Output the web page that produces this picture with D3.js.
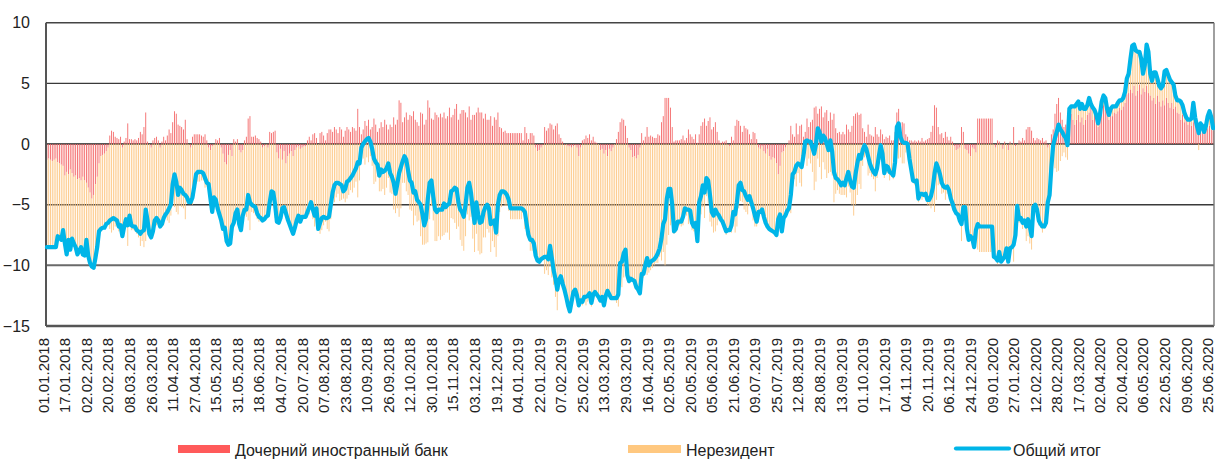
<!DOCTYPE html>
<html><head><meta charset="utf-8">
<script src="https://cdn.jsdelivr.net/npm/d3@7"></script>
<style>
body{margin:0;background:#fff}
svg{display:block}
text{font-family:"Liberation Sans",Arial,sans-serif;fill:#222}
</style>
</head><body>
<svg id="c" width="1215" height="459"></svg>
<script>
const tickLabels = ["01.01.2018","17.01.2018","02.02.2018","20.02.2018","08.03.2018","26.03.2018","11.04.2018","27.04.2018","15.05.2018","31.05.2018","18.06.2018","04.07.2018","20.07.2018","07.08.2018","23.08.2018","10.09.2018","26.09.2018","12.10.2018","30.10.2018","15.11.2018","03.12.2018","19.12.2018","04.01.2019","22.01.2019","07.02.2019","25.02.2019","13.03.2019","29.03.2019","16.04.2019","02.05.2019","20.05.2019","05.06.2019","21.06.2019","09.07.2019","25.07.2019","12.08.2019","28.08.2019","13.09.2019","01.10.2019","17.10.2019","04.11.2019","20.11.2019","06.12.2019","24.12.2019","09.01.2020","27.01.2020","12.02.2020","28.02.2020","17.03.2020","02.04.2020","20.04.2020","06.05.2020","22.05.2020","09.06.2020","25.06.2020"];
const tickEvery = 12;
const yTicks = [10,5,0,-5,-10,-15];
const seriesNames = ["Дочерний иностранный банк","Нерезидент","Общий итог"];

// Общий итог (line)
const total = [
-8.5,-8.5,-8.5,-8.5,-8.5,-8.5,-7.6,-7.7,-7.9,-7.1,
-8.2,-9.1,-7.9,-8.7,-7.8,-8.2,-8.5,-9.1,-8.8,-8.5,
-9.1,-9.2,-7.9,-9.2,-9.8,-10.1,-10.2,-9.4,-8.5,-7.2,
-7.0,-6.9,-6.9,-6.6,-6.5,-6.3,-6.2,-6.1,-6.2,-6.3,-6.8,
-6.7,-7.6,-6.8,-6.2,-6.7,-5.9,-6.7,-6.8,-6.8,-7.1,
-7.2,-7.4,-7.2,-7.1,-5.4,-6.3,-7.4,-7.7,-7.2,-6.3,
-6.1,-6.3,-6.8,-6.6,-6.1,-5.8,-5.6,-5.3,-5.0,-3.3,
-2.5,-3.1,-4.2,-3.6,-3.8,-4.1,-4.2,-4.4,-4.8,-4.8,
-4.4,-3.5,-2.5,-2.3,-2.3,-2.3,-2.4,-2.8,-3.2,-3.3,-4.5,
-5.6,-4.4,-4.6,-5.3,-5.8,-6.3,-7.0,-6.9,-8.0,-8.3,
-8.2,-6.8,-6.5,-5.7,-5.4,-6.6,-7.1,-5.9,-5.4,-5.4,
-4.2,-4.8,-5.0,-5.1,-5.2,-5.7,-6.0,-6.1,-6.3,-6.2,
-6.0,-5.9,-4.8,-3.9,-4.0,-5.0,-6.4,-6.5,-6.1,-5.3,
-5.2,-5.7,-6.2,-6.6,-7.0,-7.4,-6.9,-6.3,-5.9,-6.4,
-6.0,-6.0,-6.0,-5.6,-5.2,-4.8,-5.4,-5.9,-5.3,-7.0,-6.5,
-6.1,-6.0,-6.1,-6.1,-6.0,-5.0,-4.0,-3.4,-3.2,-3.2,
-3.3,-3.4,-3.9,-3.7,-3.1,-3.0,-2.8,-2.6,-2.3,-2.0,
-1.5,-1.6,-0.3,0.0,0.2,0.4,0.5,0.2,-0.4,-1.2,
-1.5,-1.7,-2.6,-2.1,-2.3,-2.2,-2.0,-1.6,-2.4,-2.7,-3.2,
-4.1,-3.3,-2.4,-1.9,-1.4,-1.0,-1.3,-2.2,-3.0,-3.2,
-4.0,-3.9,-4.6,-4.8,-5.0,-5.8,-6.7,-6.2,-4.5,-3.2,
-3.0,-4.3,-5.4,-5.6,-5.4,-5.4,-5.4,-4.9,-5.2,-5.0,
-4.9,-3.9,-3.8,-3.6,-3.7,-4.8,-5.4,-5.6,-6.0,-5.0,
-3.6,-3.2,-4.0,-5.4,-6.5,-4.8,-5.8,-6.5,-6.4,-5.6,
-5.2,-5.0,-5.3,-6.6,-6.5,-6.3,-7.3,-5.0,-4.2,-3.9,
-3.9,-4.0,-4.2,-4.6,-5.3,-5.3,-5.3,-5.3,-5.3,-5.3,-5.3,
-5.4,-5.6,-6.6,-7.5,-7.9,-7.9,-8.2,-9.2,-9.6,-9.7,
-9.5,-9.4,-9.3,-9.3,-9.5,-8.4,-9.4,-10.4,-11.1,-12.0,
-11.2,-10.9,-11.5,-12.0,-12.6,-13.3,-13.8,-13.0,-12.2,-12.0,
-12.5,-13.3,-12.9,-13.0,-12.6,-12.6,-12.5,-12.3,-13.1,-12.4,
-12.2,-12.4,-12.6,-12.9,-12.6,-13.3,-12.5,-12.1,-12.4,-12.7,-12.7,
-12.7,-12.7,-12.4,-9.8,-9.7,-9.0,-8.7,-10.8,-11.3,-11.1,
-11.2,-11.3,-11.8,-12.0,-12.3,-10.7,-10.7,-10.0,-9.4,-10.0,
-9.7,-9.6,-9.5,-9.3,-9.0,-8.6,-7.8,-6.6,-6.2,-4.5,
-3.7,-3.7,-5.0,-7.2,-7.0,-6.4,-6.4,-6.4,-6.0,-5.3,-5.4,
-5.4,-5.5,-6.5,-6.8,-6.5,-8.0,-4.8,-4.3,-3.4,-4.0,
-2.8,-3.0,-4.2,-5.6,-5.9,-5.4,-5.7,-5.9,-6.2,-6.4,
-6.8,-7.2,-7.1,-7.1,-6.7,-5.6,-5.8,-4.8,-3.4,-3.2,
-3.8,-3.9,-4.3,-4.6,-4.3,-4.8,-5.3,-5.9,-6.4,-5.6,
-5.6,-5.4,-6.0,-6.5,-6.8,-7.0,-7.1,-7.2,-7.3,-7.5,-6.2,
-5.8,-7.2,-6.1,-5.9,-5.5,-5.3,-4.2,-2.5,-2.3,-1.8,
-1.6,-1.7,-1.9,-1.0,0.2,0.3,0.2,0.2,-0.3,-0.8,
0.0,1.3,1.0,0.2,0.7,0.5,0.0,-0.5,0.3,-0.6,
-2.3,-2.8,-2.9,-3.1,-3.4,-3.2,-3.4,-2.8,-2.3,-3.0,
-3.5,-3.6,-2.5,-1.6,-0.9,-1.2,-0.5,-0.1,-0.4,-1.0,
-1.6,-2.0,-2.3,-2.5,-2.0,-1.0,-0.1,-0.8,-2.4,-1.8,-1.9,
-2.3,-2.4,-2.6,-1.5,1.4,1.7,0.6,0.2,0.1,0.1,
0.0,-1.2,-2.1,-3.0,-3.1,-3.0,-4.5,-4.1,-4.1,-4.2,
-4.1,-4.6,-4.6,-4.3,-3.6,-2.4,-1.6,-2.0,-2.5,-3.2,
-3.5,-3.6,-3.5,-3.8,-4.5,-4.9,-5.4,-5.7,-5.8,-6.3,
-6.6,-5.2,-5.2,-7.0,-7.9,-7.6,-7.8,-8.5,-7.1,-6.6,
-6.8,-6.8,-6.8,-6.8,-6.8,-6.8,-6.8,-6.8,-9.3,-9.4,-9.6,
-8.9,-9.7,-9.5,-9.3,-8.6,-9.7,-8.6,-8.5,-8.3,-7.5,
-5.1,-6.2,-6.1,-6.5,-6.3,-6.8,-6.2,-6.8,-7.6,-5.2,
-5.0,-5.4,-6.3,-6.6,-6.8,-6.8,-6.5,-4.8,-4.2,-1.9,
-0.1,0.5,1.0,1.6,1.2,1.0,0.7,0.5,-0.1,2.9,
3.1,3.1,3.1,3.3,3.5,2.9,3.3,2.9,2.9,3.2,3.8,
3.3,3.0,2.8,2.4,1.7,2.4,3.5,4.0,3.8,2.9,
2.4,2.9,3.1,3.1,3.1,3.4,3.6,3.6,3.8,4.3,
5.4,5.8,7.0,8.1,8.2,7.7,7.6,7.6,7.0,5.8,
6.5,8.2,7.6,5.8,5.2,5.9,5.9,5.4,4.8,4.6,
4.8,6.0,6.1,5.7,5.3,5.1,4.9,4.0,3.6,3.6,3.5,
3.2,2.6,2.2,2.0,2.0,2.1,3.4,2.2,1.5,0.9,
1.7,1.5,1.0,1.5,2.3,2.7,2.2,1.3];

// Дочерний иностранный банк (bars)
const foreignBank = [
-1.3,-1.2,-1.3,-1.4,-1.3,-1.2,-1.5,-1.6,-1.7,-1.8,
-2.6,-2.3,-2.5,-2.1,-2.4,-2.7,-2.6,-2.9,-2.8,-3.0,
-2.7,-3.0,-3.2,-3.6,-4.0,-4.5,-4.2,-3.3,-2.7,-1.6,
-1.0,-0.9,-0.8,-0.6,-0.3,0.7,1.1,1.0,0.6,0.5,0.4,
0.6,-0.3,0.2,0.5,1.7,0.4,0.4,0.3,0.4,0.3,
0.5,1.0,0.8,1.4,2.6,0.2,0.0,-0.3,0.3,0.5,
0.6,0.3,-0.3,0.2,0.6,0.3,0.7,1.2,0.9,1.8,
2.7,2.5,1.6,1.5,1.4,1.2,2.0,0.4,0.0,-0.3,
0.6,0.8,0.8,0.8,0.8,0.7,0.6,0.8,0.3,-0.3,-0.5,
-0.2,0.0,0.4,0.3,0.5,-0.3,-0.8,-1.5,-1.7,-0.9,
-0.5,-1.0,0.4,0.2,0.4,-0.5,-0.7,-0.5,0.3,0.6,
2.1,2.3,0.6,0.6,0.7,0.5,0.4,0.2,-0.3,-0.2,
0.0,-0.3,1.0,0.9,1.0,1.1,-0.7,-1.2,-0.4,-1.3,
-0.6,-1.6,-1.0,-0.8,-0.6,-1.0,-0.5,-0.3,-0.2,-0.4,
-0.3,-0.2,-0.2,0.3,0.6,0.3,0.8,0.9,0.5,0.0,0.9,
1.0,0.7,0.3,0.9,1.2,1.2,1.0,1.4,1.2,0.9,
1.4,1.2,0.6,1.1,1.4,1.2,1.0,1.4,1.3,1.1,
2.9,1.4,0.8,1.2,1.9,1.5,2.0,1.2,1.4,2.1,
1.6,1.0,1.3,1.8,1.4,2.0,1.6,1.2,1.6,1.4,2.2,
1.6,2.0,3.6,3.4,1.8,2.2,2.6,2.0,2.4,2.3,
2.7,2.0,1.8,1.5,2.6,2.5,1.6,2.0,3.6,3.0,
2.1,2.0,2.6,2.4,2.2,2.5,2.2,2.6,2.1,2.3,
3.0,2.2,2.4,2.9,3.3,2.0,2.5,2.8,2.8,2.6,
2.2,3.1,2.0,2.4,2.4,2.6,3.0,2.6,2.6,2.1,
2.5,2.0,2.0,2.3,1.5,2.2,2.0,2.6,1.4,1.3,
1.0,1.1,0.9,0.9,0.9,0.9,0.9,0.9,0.9,0.9,0.9,
0.3,1.4,0.9,0.4,0.9,0.9,0.7,-0.3,-0.6,-0.5,
-0.3,-0.1,1.4,1.1,1.3,1.7,1.6,1.2,1.5,1.7,
0.8,0.5,0.2,-0.1,0.0,-0.2,-0.2,-0.3,-0.2,-0.1,
-0.3,-1.0,-0.3,0.3,0.4,0.7,0.5,0.8,0.3,0.6,
0.2,0.1,0.0,-0.5,-0.4,-0.8,-0.5,-1.0,-0.4,-0.6,-0.3,
0.0,0.4,1.0,1.8,2.1,2.0,1.5,0.5,-0.3,-0.5,
-1.1,-1.0,-1.2,-0.9,-0.3,0.9,0.3,0.6,1.4,0.6,
0.7,0.6,0.5,0.5,0.8,0.7,1.8,2.3,3.8,3.8,
3.8,3.0,1.4,0.2,0.3,0.3,0.3,0.4,0.7,0.3,0.5,
1.2,0.8,0.6,0.4,0.8,0.1,0.8,1.5,1.8,2.1,
1.5,1.9,2.2,1.2,1.4,1.8,1.0,0.3,0.1,0.2,
0.2,0.3,0.0,-0.2,0.6,0.3,1.5,2.0,1.9,1.5,
1.0,1.5,1.3,1.2,0.8,0.4,1.0,0.9,0.4,-0.3,
-0.4,-0.2,-0.6,-0.8,-0.4,-1.0,-1.3,-1.1,-1.2,-1.6,-2.5,
-1.8,-0.7,-0.6,-0.3,0.0,0.3,1.5,0.8,0.6,1.7,
0.8,1.5,1.6,0.6,1.0,2.1,1.4,1.8,2.0,3.0,
3.1,2.5,2.9,3.1,2.2,2.6,2.8,1.9,2.6,2.0,
2.5,1.3,0.9,1.0,0.8,1.0,0.8,1.6,1.2,1.0,
1.5,2.3,2.5,2.6,2.4,2.5,1.3,1.0,0.6,1.6,
0.8,0.7,0.6,1.4,0.8,0.6,1.2,0.8,0.4,0.6,0.5,
0.7,0.3,0.3,1.0,2.6,2.9,1.7,1.8,1.7,0.8,
0.6,0.3,0.3,0.2,0.3,0.2,0.3,0.2,0.5,0.2,
0.3,0.4,0.5,1.0,1.5,3.2,3.0,1.4,0.8,0.9,
0.5,1.0,0.6,0.3,0.6,0.2,-0.2,-0.5,-0.4,-0.3,
1.4,1.0,-0.4,-0.5,-0.8,-1.0,-0.3,-0.4,-0.7,2.1,
2.1,2.1,2.1,2.1,2.1,2.1,2.1,2.1,0.0,-0.3,0.3,
0.2,0.0,-0.4,0.2,0.0,-0.5,0.2,0.0,1.4,-0.2,
0.0,0.3,0.2,0.5,0.3,1.2,1.4,1.4,1.1,0.5,
0.3,0.5,0.4,0.3,0.5,0.2,0.3,-0.3,0.0,0.8,
1.2,2.5,3.3,3.8,2.6,2.0,1.4,1.6,1.2,2.2,
2.5,2.0,1.6,2.0,2.4,1.8,2.2,1.6,2.0,2.4,2.6,
3.1,2.0,2.4,2.0,1.4,2.0,2.6,3.2,3.5,2.8,
2.0,2.4,2.3,2.6,2.5,2.7,3.0,2.8,3.1,3.4,
4.1,4.2,4.5,4.2,4.8,4.0,4.4,4.9,4.1,4.6,
4.3,4.8,4.2,4.0,3.6,3.8,3.3,4.0,3.5,3.1,
3.6,3.2,3.8,3.4,3.0,3.4,2.9,3.1,2.6,2.5,2.0,
2.4,1.8,2.2,1.6,2.0,1.5,1.8,1.9,1.3,1.4,
1.2,1.1,1.0,1.2,1.3,1.5,1.2,1.1];

// Нерезидент (bars)
const nonResident = [
-7.2,-7.3,-7.2,-7.1,-7.2,-7.3,-6.1,-6.1,-6.2,-5.3,
-5.6,-6.8,-5.4,-6.6,-5.4,-5.5,-5.9,-6.2,-6.0,-5.5,
-6.4,-6.2,-4.7,-5.6,-5.8,-5.6,-6.0,-6.1,-5.8,-5.6,
-6.0,-6.0,-6.1,-6.0,-6.2,-7.0,-7.3,-7.1,-6.8,-6.8,-7.2,
-7.3,-7.3,-7.0,-6.7,-8.4,-6.3,-7.1,-7.1,-7.2,-7.4,
-7.7,-8.4,-8.0,-8.5,-8.0,-6.5,-7.4,-7.4,-7.5,-6.8,
-6.7,-6.6,-6.5,-6.8,-6.7,-6.1,-6.3,-6.5,-5.9,-5.1,
-5.2,-5.6,-5.8,-5.1,-5.2,-5.3,-6.2,-4.8,-4.8,-4.5,
-5.0,-4.3,-3.3,-3.1,-3.1,-3.0,-3.0,-3.6,-3.5,-3.0,-4.0,
-5.4,-4.4,-5.0,-5.6,-6.3,-6.0,-6.2,-5.4,-6.3,-7.4,
-7.7,-5.8,-6.9,-5.9,-5.8,-6.1,-6.4,-5.4,-5.7,-6.0,
-6.3,-7.1,-5.6,-5.7,-5.9,-6.2,-6.4,-6.3,-6.0,-6.0,
-6.0,-5.6,-5.8,-4.8,-5.0,-6.1,-5.7,-5.3,-5.7,-4.0,
-4.6,-4.1,-5.2,-5.8,-6.4,-6.4,-6.4,-6.0,-5.7,-6.0,
-5.7,-5.8,-5.8,-5.9,-5.8,-5.1,-6.2,-6.8,-5.8,-7.0,-7.4,
-7.1,-6.7,-6.4,-7.0,-7.2,-6.2,-5.0,-4.8,-4.4,-4.1,
-4.7,-4.6,-4.5,-4.8,-4.5,-4.2,-3.8,-4.0,-3.6,-3.1,
-4.4,-3.0,-1.1,-1.2,-1.7,-1.1,-1.5,-1.0,-1.8,-3.3,
-3.1,-2.7,-3.9,-3.9,-3.7,-4.2,-3.6,-2.8,-4.0,-4.1,-5.4,
-5.7,-5.3,-6.0,-5.3,-3.2,-3.2,-3.9,-4.2,-5.4,-5.5,
-6.7,-5.9,-6.4,-6.3,-7.6,-8.3,-8.3,-8.2,-8.1,-6.2,
-5.1,-6.3,-8.0,-8.0,-7.6,-7.9,-7.6,-7.5,-7.3,-7.3,
-7.9,-6.1,-6.2,-6.5,-7.0,-6.8,-7.9,-8.4,-8.8,-7.6,
-5.8,-6.3,-6.0,-7.8,-8.9,-7.4,-8.8,-9.1,-9.0,-7.7,
-7.7,-7.0,-7.3,-8.9,-8.0,-8.5,-9.3,-7.6,-5.6,-5.2,
-4.9,-5.1,-5.1,-5.5,-6.2,-6.2,-6.2,-6.2,-6.2,-6.2,-6.2,
-5.7,-7.0,-7.5,-7.9,-8.8,-8.8,-8.9,-8.9,-9.0,-9.2,
-9.2,-9.3,-10.7,-10.4,-10.8,-10.1,-11.0,-11.6,-12.6,-13.7,
-12.0,-11.4,-11.7,-11.9,-12.6,-13.1,-13.6,-12.7,-12.0,-11.9,
-12.2,-12.3,-12.6,-13.3,-13.0,-13.3,-13.0,-13.1,-13.4,-13.0,
-12.4,-12.5,-12.6,-12.4,-12.2,-12.5,-12.0,-11.1,-12.0,-12.1,-12.4,
-12.7,-13.1,-13.4,-11.6,-11.8,-11.0,-10.2,-11.3,-11.0,-10.6,
-10.1,-10.3,-10.6,-11.1,-12.0,-11.6,-11.0,-10.6,-10.8,-10.6,
-10.4,-10.2,-10.0,-9.8,-9.8,-9.3,-9.6,-8.9,-10.0,-8.3,
-7.5,-6.7,-6.4,-7.4,-7.3,-6.7,-6.7,-6.8,-6.7,-5.6,-5.9,
-6.6,-6.3,-7.1,-7.2,-7.3,-8.1,-5.6,-5.8,-5.2,-6.1,
-4.3,-4.9,-6.4,-6.8,-7.3,-7.2,-6.7,-6.2,-6.3,-6.6,
-7.0,-7.5,-7.1,-6.9,-7.3,-5.9,-7.3,-6.8,-5.3,-4.7,
-4.8,-5.4,-5.6,-5.8,-5.1,-5.2,-6.3,-6.8,-6.8,-5.3,
-5.2,-5.2,-5.4,-5.7,-6.4,-6.0,-5.8,-6.1,-6.1,-5.9,-3.7,
-4.0,-6.5,-5.5,-5.6,-5.5,-5.6,-5.7,-3.3,-2.9,-3.5,
-2.4,-3.2,-3.5,-1.6,-0.8,-1.8,-1.2,-1.6,-2.3,-3.8,
-3.1,-1.2,-1.9,-2.9,-1.5,-2.1,-2.8,-2.4,-2.3,-2.6,
-4.8,-4.1,-3.8,-4.1,-4.2,-4.2,-4.2,-4.4,-3.5,-4.0,
-5.0,-5.9,-5.0,-4.2,-3.3,-3.7,-1.8,-1.1,-1.0,-2.6,
-2.4,-2.7,-2.9,-3.9,-2.8,-1.6,-1.3,-1.6,-2.8,-2.4,-2.4,
-3.0,-2.7,-2.9,-2.5,-1.2,-1.2,-1.1,-1.6,-1.6,-0.7,
-0.6,-1.5,-2.4,-3.2,-3.4,-3.2,-4.8,-4.3,-4.6,-4.4,
-4.4,-5.0,-5.1,-5.3,-5.1,-5.6,-4.6,-3.4,-3.3,-4.1,
-4.0,-4.6,-4.1,-4.1,-5.1,-5.1,-5.2,-5.2,-5.4,-6.0,
-8.0,-6.2,-4.8,-6.5,-7.1,-6.6,-7.5,-8.1,-6.4,-8.7,
-8.9,-8.9,-8.9,-8.9,-8.9,-8.9,-8.9,-8.9,-9.3,-9.1,-9.9,
-9.1,-9.7,-9.1,-9.5,-8.6,-9.2,-8.8,-8.5,-9.7,-7.3,
-5.1,-6.5,-6.3,-7.0,-6.6,-8.0,-7.6,-8.2,-8.7,-5.7,
-5.3,-5.9,-6.7,-6.9,-7.3,-7.0,-6.8,-4.5,-4.2,-2.7,
-1.3,-2.0,-2.3,-2.2,-1.4,-1.0,-0.7,-1.1,-1.3,0.7,
0.6,1.1,1.5,1.3,1.1,1.1,1.1,1.3,0.9,0.8,1.2,
0.2,1.0,0.4,0.4,0.3,0.4,0.9,0.8,0.3,0.1,
0.4,0.5,0.8,0.5,0.6,0.7,0.6,0.8,0.7,0.9,
1.3,1.6,2.5,3.9,3.4,3.7,3.2,2.7,2.9,1.2,
2.2,3.4,3.4,1.8,1.6,2.1,2.6,1.4,1.3,1.5,
1.2,2.8,2.3,2.3,2.3,1.7,2.0,0.9,1.0,1.1,1.5,
0.8,0.8,0.0,0.4,0.0,0.6,1.6,0.3,0.2,-0.5,
0.5,0.4,0.0,0.3,1.0,1.2,1.0,0.2];

const colors = {red:"#F46A6A", orange:"#FDC886", line:"#00B5E8"};

const svg = d3.select("#c");
const L = 46, R = 1214, T = 22.7, B = 326;
const N = total.length;
const idx = d3.range(N);
const x = d3.scaleBand().domain(idx).range([L, R]).paddingInner(0.5).paddingOuter(0.25);
const y = d3.scaleLinear().domain([-15, 10]).range([B, T]);
const cx = i => x(i) + x.bandwidth() / 2;

// gridlines
const grid = svg.append("g");
[5, 0, -5, -10].forEach(v => {
  grid.append("line").attr("x1", L).attr("x2", R).attr("y1", y(v)).attr("y2", y(v))
    .attr("stroke", v === 0 ? "#1e1e1e" : (v === -10 ? "#6a6a6a" : "#3a3a3a"))
    .attr("stroke-width", v === -10 ? 2 : 1.4);
});

// stacked bars
const bars = svg.append("g");
idx.forEach(i => {
  const a = foreignBank[i] || 0, b = nonResident[i] || 0;
  bars.append("rect").attr("x", x(i)).attr("width", x.bandwidth())
    .attr("y", y(Math.max(0, a))).attr("height", Math.abs(y(a) - y(0)))
    .attr("fill", colors.red);
  const base = (a !== 0 && Math.sign(a) === Math.sign(b)) ? a : 0;
  const top = base + b;
  bars.append("rect").attr("x", x(i)).attr("width", x.bandwidth())
    .attr("y", y(Math.max(base, top))).attr("height", Math.abs(y(base) - y(top)))
    .attr("fill", colors.orange);
});

// frame
const frame = svg.append("g").attr("fill", "none");
frame.append("line").attr("x1", L).attr("x2", R).attr("y1", y(10)).attr("y2", y(10)).attr("stroke", "#444").attr("stroke-width", 1.6);
frame.append("line").attr("x1", L).attr("x2", R).attr("y1", y(-15)).attr("y2", y(-15)).attr("stroke", "#555").attr("stroke-width", 2.4);
frame.append("line").attr("x1", L).attr("x2", L).attr("y1", y(10)).attr("y2", y(-15)).attr("stroke", "#555").attr("stroke-width", 2);
frame.append("line").attr("x1", R).attr("x2", R).attr("y1", y(10)).attr("y2", y(-15)).attr("stroke", "#777").attr("stroke-width", 1.4);

// total line
svg.append("path").datum(total)
  .attr("fill", "none").attr("stroke", colors.line).attr("stroke-width", 4.2)
  .attr("stroke-linejoin", "round").attr("stroke-linecap", "round")
  .attr("d", d3.line().x((d, i) => cx(i)).y(d => y(d)));

// y axis
const yAxis = svg.append("g").attr("transform", `translate(${L},0)`)
  .call(d3.axisLeft(y).tickValues(yTicks).tickSize(0).tickPadding(16).tickFormat(d3.format("d")));
yAxis.select(".domain").remove();
yAxis.selectAll("text").style("font-size", "16px").attr("fill", "#222")
  .style("font-family", '"Liberation Sans", Arial, sans-serif');

// x axis
const tickIdx = tickLabels.map((t, k) => k * tickEvery).filter(v => v < N);
const xAxis = svg.append("g").attr("transform", `translate(0,${B})`)
  .call(d3.axisBottom(x).tickValues(tickIdx).tickSize(0).tickFormat(d => tickLabels[d / tickEvery]));
xAxis.select(".domain").remove();
xAxis.selectAll("text")
  .attr("transform", "rotate(-90)").attr("x", -12).attr("y", 0).attr("dy", "1.8px")
  .attr("text-anchor", "end").attr("fill", "#222")
  .style("font-size", "15px").style("font-family", '"Liberation Sans", Arial, sans-serif');

// legend
const lg = svg.append("g").style("font-size", "16px");
lg.append("rect").attr("x", 178).attr("y", 445).attr("width", 52).attr("height", 8).attr("fill", "#FF5A5A");
lg.append("text").attr("x", 235).attr("y", 456).text(seriesNames[0]);
lg.append("rect").attr("x", 628).attr("y", 445).attr("width", 53).attr("height", 8).attr("fill", "#FFC880");
lg.append("text").attr("x", 686).attr("y", 456).text(seriesNames[1]);
lg.append("line").attr("x1", 956).attr("x2", 1009).attr("y1", 448.5).attr("y2", 448.5)
  .attr("stroke", colors.line).attr("stroke-width", 4.2).attr("stroke-linecap", "round");
lg.append("text").attr("x", 1013).attr("y", 456).text(seriesNames[2]);
</script>
</body></html>
